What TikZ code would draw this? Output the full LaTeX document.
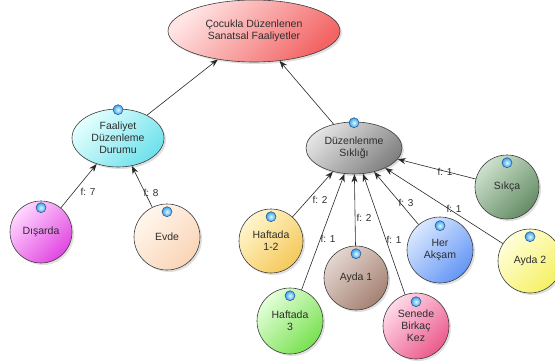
\documentclass[tikz,border=0pt]{standalone}
\usepackage{fontspec}
\setmainfont{Liberation Sans}
\usetikzlibrary{shapes.geometric,arrows.meta,shadows}

\definecolor{txt}{RGB}{45,45,45}
\definecolor{outl}{RGB}{60,60,60}
\definecolor{conncol}{RGB}{40,40,40}
\definecolor{bubedge}{RGB}{40,80,140}
\definecolor{bubin}{RGB}{225,250,255}
\definecolor{bubout}{RGB}{55,160,235}
% light / deep tone of every node
\definecolor{topA}{RGB}{255,228,228}\definecolor{topB}{RGB}{243,100,100}
\definecolor{faalA}{RGB}{228,255,255}\definecolor{faalB}{RGB}{110,225,235}
\definecolor{duzA}{RGB}{228,228,228}\definecolor{duzB}{RGB}{128,128,128}
\definecolor{disA}{RGB}{255,215,255}\definecolor{disB}{RGB}{225,70,225}
\definecolor{evdA}{RGB}{255,247,238}\definecolor{evdB}{RGB}{250,212,182}
\definecolor{hoA}{RGB}{255,246,205}\definecolor{hoB}{RGB}{245,200,90}
\definecolor{htA}{RGB}{228,255,218}\definecolor{htB}{RGB}{120,225,80}
\definecolor{aoA}{RGB}{228,214,208}\definecolor{aoB}{RGB}{165,130,115}
\definecolor{senA}{RGB}{255,218,232}\definecolor{senB}{RGB}{235,90,140}
\definecolor{herA}{RGB}{218,232,255}\definecolor{herB}{RGB}{100,150,245}
\definecolor{atA}{RGB}{255,255,218}\definecolor{atB}{RGB}{245,240,100}
\definecolor{sikA}{RGB}{205,225,205}\definecolor{sikB}{RGB}{100,140,100}

\tikzset{
  base/.style={draw=outl, line width=0.6pt, inner sep=0pt, align=center,
    text=txt, font=\fontsize{10.5}{12}\selectfont,
    drop shadow={shadow xshift=2pt, shadow yshift=-2pt, opacity=0.25}},
  grad/.style 2 args={top color=#1, bottom color=#2, shading angle=45},
  oval/.style={base, ellipse},
  disc/.style={base, circle},
  bubble/.style={circle, minimum size=10pt, inner sep=0pt, draw=bubedge,
    line width=0.5pt, inner color=bubin, outer color=bubout},
  conn/.style={draw=conncol, line width=0.6pt, -{Stealth[length=8pt,width=6pt]}},
  flabel/.style={text=txt, font=\fontsize{10}{12}\selectfont, inner sep=0pt}
}

\begin{document}
\begin{tikzpicture}[x=1pt, y=-1pt]
\useasboundingbox (0,0) rectangle (555,361);

% central topic and the two grouping nodes
\node[oval, grad={topA}{topB}, minimum width=172pt, minimum height=62pt] (top) at (254,31)
  {Çocukla Düzenlenen\\Sanatsal Faaliyetler};
\node[oval, grad={faalA}{faalB}, minimum width=92pt, minimum height=58pt] (faal) at (118,138)
  {Faaliyet\\Düzenleme\\Durumu};
\node[oval, grad={duzA}{duzB}, minimum width=96pt, minimum height=52pt] (duz) at (354,148)
  {Düzenlenme\\Sıklığı};

% leaves
\node[disc, grad={disA}{disB}, minimum size=62pt] (disarda) at (41,232) {Dışarda};
\node[disc, grad={evdA}{evdB}, minimum size=66pt] (evde) at (167,237) {Evde};
\node[disc, grad={hoA}{hoB}, minimum size=64pt] (h12) at (271,241) {Haftada\\1-2};
\node[disc, grad={htA}{htB}, minimum size=66pt] (h3) at (290,321) {Haftada\\3};
\node[disc, grad={aoA}{aoB}, minimum size=64pt] (ayda1) at (356,278) {Ayda 1};
\node[disc, grad={senA}{senB}, minimum size=66pt] (senede) at (416,326) {Senede\\Birkaç\\Kez};
\node[disc, grad={herA}{herB}, minimum size=66pt] (her) at (440,250) {Her\\Akşam};
\node[disc, grad={atA}{atB}, minimum size=64pt] (ayda2) at (530,261) {Ayda 2};
\node[disc, grad={sikA}{sikB}, minimum size=64pt] (sikca) at (507,187) {Sıkça};

% connectors
\draw[conn] (faal) -- (top);
\draw[conn] (duz) -- (top);
\draw[conn] (disarda) -- (faal);
\draw[conn] (evde) -- (faal);
\draw[conn] (h12) -- (duz);
\draw[conn] (h3) -- (duz);
\draw[conn] (ayda1) -- (duz);
\draw[conn] (senede) -- (duz);
\draw[conn] (her) -- (duz);
\draw[conn] (ayda2) -- (duz);
\draw[conn] (sikca) -- (duz);

% frequency labels
\node[flabel] (l-disarda) at (88,192) {f: 7};
\node[flabel] (l-evde) at (151,193) {f: 8};
\node[flabel] (l-h12) at (320,200) {f: 2};
\node[flabel] (l-h3) at (328,239) {f: 1};
\node[flabel] (l-ayda1) at (364,218) {f: 2};
\node[flabel] (l-senede) at (394,240) {f: 1};
\node[flabel] (l-her) at (406,203) {f: 3};
\node[flabel] (l-ayda2) at (454,209) {f: 1};
\node[flabel] (l-sikca) at (445,172) {f: 1};

% marker bubbles
\node[bubble] (b-faal) at (faal.north) [yshift=-1pt] {};
\node[bubble] (b-duz) at (duz.north) [yshift=-1pt] {};
\node[bubble] (b-disarda) at (disarda.north) [yshift=-7pt] {};
\node[bubble] (b-evde) at (evde.north) [yshift=-8pt] {};
\node[bubble] (b-h12) at (h12.north) [yshift=-8pt] {};
\node[bubble] (b-h3) at (h3.north) [yshift=-8pt] {};
\node[bubble] (b-ayda1) at (ayda1.north) [yshift=-8pt] {};
\node[bubble] (b-senede) at (senede.north) [yshift=-9pt] {};
\node[bubble] (b-her) at (her.north) [yshift=-9pt] {};
\node[bubble] (b-ayda2) at (ayda2.north) [yshift=-8pt] {};
\node[bubble] (b-sikca) at (sikca.north) [yshift=-8pt] {};
\end{tikzpicture}
\end{document}
